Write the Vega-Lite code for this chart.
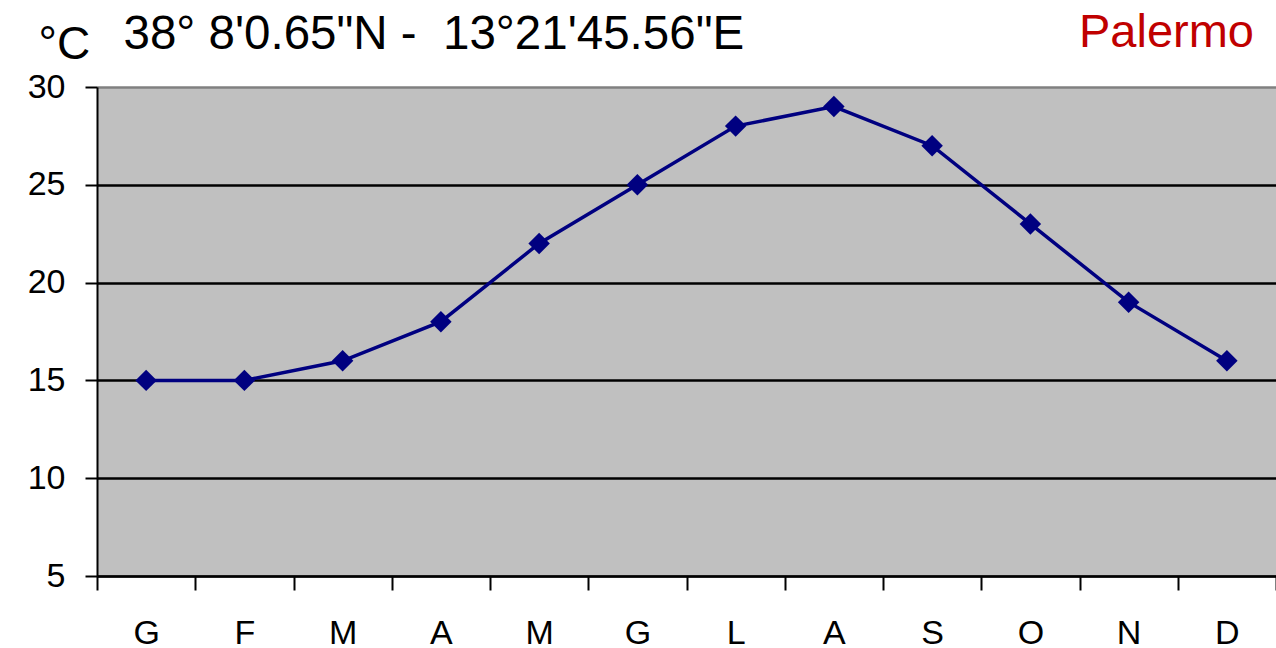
{
  "$schema": "https://vega.github.io/schema/vega-lite/v6.json",
  "width": 1179,
  "height": 489,
  "autosize": {"type": "none"},
  "padding": {"left": 97, "top": 87, "right": 0, "bottom": 72},
  "background": "white",
  "config": {
    "font": "Liberation Sans",
    "view": {"fill": "#c0c0c0", "stroke": null}
  },
  "title": {
    "text": "Palermo",
    "anchor": "end",
    "frame": "group",
    "color": "#c00000",
    "fontSize": 47,
    "fontWeight": "normal",
    "font": "Liberation Sans",
    "baseline": "alphabetic",
    "dx": -22,
    "dy": 84,
    "offset": 0
  },
  "data": {
    "values": [
      {"k": "G1", "mese": "G", "t": 15},
      {"k": "F", "mese": "F", "t": 15},
      {"k": "M1", "mese": "M", "t": 16},
      {"k": "A1", "mese": "A", "t": 18},
      {"k": "M2", "mese": "M", "t": 22},
      {"k": "G2", "mese": "G", "t": 25},
      {"k": "L", "mese": "L", "t": 28},
      {"k": "A2", "mese": "A", "t": 29},
      {"k": "S", "mese": "S", "t": 27},
      {"k": "O", "mese": "O", "t": 23},
      {"k": "N", "mese": "N", "t": 19},
      {"k": "D", "mese": "D", "t": 16}
    ]
  },
  "encoding": {
    "x": {
      "field": "k",
      "type": "ordinal",
      "sort": null,
      "scale": {"type": "band", "paddingInner": 0, "paddingOuter": 0},
      "axis": {
        "title": "38° 8'0.65\"N - \u00a013°21'45.56\"E",
        "titleFontSize": 47.5,
        "titleFontWeight": "normal",
        "titleColor": "black",
        "titleAlign": "left",
        "titleBaseline": "alphabetic",
        "titleX": 26,
        "titleY": -528,
        "labelAngle": 0,
        "labelExpr": "isString(datum.value) ? substring(datum.value, 0, 1) : ''",
        "labelFontSize": 34,
        "labelColor": "black",
        "labelBaseline": "alphabetic",
        "labelPadding": 53,
        "tickBand": "extent",
        "tickSize": 14,
        "tickWidth": 2,
        "tickColor": "black",
        "domainColor": "black",
        "domainWidth": 2,
        "grid": false
      }
    },
    "y": {
      "field": "t",
      "type": "quantitative",
      "scale": {"domain": [5, 30], "nice": false, "zero": false},
      "axis": {
        "values": [5, 10, 15, 20, 25, 30],
        "title": "°C",
        "titleFontSize": 46,
        "titleFontWeight": "normal",
        "titleColor": "black",
        "titleAngle": 0,
        "titleAlign": "left",
        "titleBaseline": "alphabetic",
        "titleX": -59,
        "titleY": -29,
        "labelFontSize": 34,
        "labelColor": "black",
        "labelPadding": 20,
        "tickSize": 12,
        "tickWidth": 2,
        "tickColor": "black",
        "domainColor": "black",
        "domainWidth": 2,
        "grid": true,
        "gridColor": {"condition": {"test": "datum.value == 30", "value": "#808080"}, "value": "black"},
        "gridWidth": 2.5,
        "gridOpacity": 1
      }
    }
  },
  "layer": [
    {"mark": {"type": "line", "color": "#000080", "strokeWidth": 3.5}},
    {"mark": {"type": "point", "shape": "diamond", "filled": true, "color": "#000080", "size": 460, "opacity": 1}}
  ]
}
